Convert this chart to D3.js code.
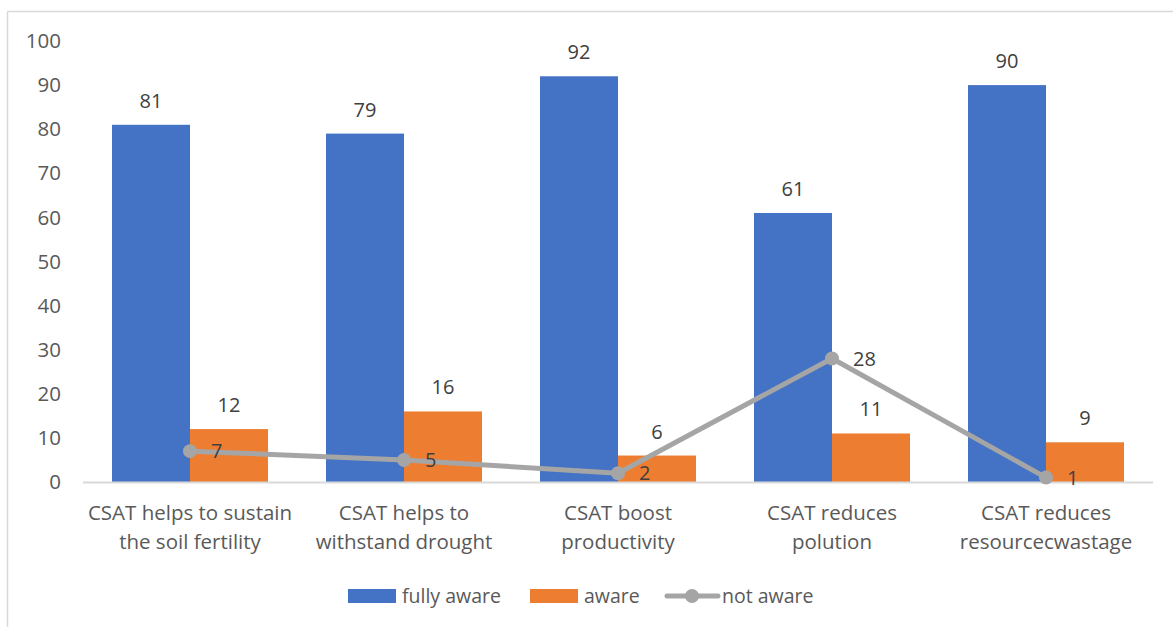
<html>
<head>
<script src="https://d3js.org/d3.v7.min.js"></script>
<style>
body { margin: 0; background: #fff; font-family: 'Open Sans', 'Noto Sans', sans-serif; }
svg { display: block; }
</style>
</head>
<body>
<svg width="1173" height="627"></svg>
<script>
var categories = [
  ["CSAT helps to sustain", "the soil fertility"],
  ["CSAT helps to", "withstand drought"],
  ["CSAT boost", "productivity"],
  ["CSAT reduces", "polution"],
  ["CSAT reduces", "resourcecwastage"]
];
var fullyAware = [81, 79, 92, 61, 90];
var aware = [12, 16, 6, 11, 9];
var notAware = [7, 5, 2, 28, 1];
var yTicks = [0, 10, 20, 30, 40, 50, 60, 70, 80, 90, 100];

var svg = d3.select("svg");
var blue = "#4472c4", orange = "#ed7d31", grey = "#a5a5a5";

// frame of the chart area (only top and left edges show)
svg.append("line").attr("x1", 7.5).attr("x2", 1173).attr("y1", 11.5).attr("y2", 11.5)
  .attr("stroke", "#d9d9d9").attr("stroke-width", 1.5);
svg.append("line").attr("x1", 7.5).attr("x2", 7.5).attr("y1", 11.5).attr("y2", 627)
  .attr("stroke", "#d9d9d9").attr("stroke-width", 1.5);

var x = d3.scaleBand().domain(d3.range(categories.length)).range([83, 1153]);
var y = d3.scaleLinear().domain([0, 100]).range([482, 41]);
var barW = 78;

// y tick labels
svg.selectAll("text.ytick").data(yTicks).enter().append("text")
  .attr("class", "ytick")
  .attr("x", 61).attr("y", function (d) { return y(d); })
  .attr("dy", "0.35em").attr("text-anchor", "end")
  .attr("font-size", 20.5).attr("fill", "#595959")
  .text(function (d) { return d; });

// bars
svg.selectAll("rect.full").data(fullyAware).enter().append("rect")
  .attr("class", "full")
  .attr("x", function (d, i) { return x(i) + x.bandwidth() / 2 - barW; })
  .attr("y", function (d) { return y(d); })
  .attr("width", barW).attr("height", function (d) { return y(0) - y(d); })
  .attr("fill", blue);
svg.selectAll("rect.aware").data(aware).enter().append("rect")
  .attr("class", "aware")
  .attr("x", function (d, i) { return x(i) + x.bandwidth() / 2; })
  .attr("y", function (d) { return y(d); })
  .attr("width", barW).attr("height", function (d) { return y(0) - y(d); })
  .attr("fill", orange);

// baseline
svg.append("line").attr("x1", x.range()[0]).attr("x2", x.range()[1])
  .attr("y1", y(0) + 0.5).attr("y2", y(0) + 0.5)
  .attr("stroke", "#d9d9d9").attr("stroke-width", 2);

// bar value labels
svg.selectAll("text.fl").data(fullyAware).enter().append("text")
  .attr("x", function (d, i) { return x(i) + x.bandwidth() / 2 - barW / 2; })
  .attr("y", function (d) { return y(d) - 17; })
  .attr("text-anchor", "middle").attr("font-size", 20).attr("fill", "#404040")
  .text(function (d) { return d; });
svg.selectAll("text.al").data(aware).enter().append("text")
  .attr("x", function (d, i) { return x(i) + x.bandwidth() / 2 + barW / 2; })
  .attr("y", function (d) { return y(d) - 17; })
  .attr("text-anchor", "middle").attr("font-size", 20).attr("fill", "#404040")
  .text(function (d) { return d; });

// not aware line
var line = d3.line()
  .x(function (d, i) { return x(i) + x.bandwidth() / 2; })
  .y(function (d) { return y(d); });
svg.append("path").datum(notAware).attr("d", line)
  .attr("fill", "none").attr("stroke", grey).attr("stroke-width", 5)
  .attr("stroke-linejoin", "round");
svg.selectAll("circle.na").data(notAware).enter().append("circle")
  .attr("cx", function (d, i) { return x(i) + x.bandwidth() / 2; })
  .attr("cy", function (d) { return y(d); })
  .attr("r", 7).attr("fill", grey);
svg.selectAll("text.nl").data(notAware).enter().append("text")
  .attr("x", function (d, i) { return x(i) + x.bandwidth() / 2 + 21; })
  .attr("y", function (d) { return y(d); })
  .attr("dy", "0.35em").attr("text-anchor", "start")
  .attr("font-size", 20).attr("fill", "#404040")
  .text(function (d) { return d; });

// category labels
var cat = svg.selectAll("text.cat").data(categories).enter().append("text")
  .attr("text-anchor", "middle").attr("font-size", 20.5).attr("fill", "#595959");
cat.each(function (lines, i) {
  d3.select(this).selectAll("tspan").data(lines).enter().append("tspan")
    .attr("x", x(i) + x.bandwidth() / 2)
    .attr("y", function (d, j) { return 520 + j * 29; })
    .text(function (d) { return d; });
});

// legend
var legend = svg.append("g").attr("font-size", 19.5).attr("fill", "#595959");
legend.append("rect").attr("x", 348).attr("y", 589).attr("width", 48).attr("height", 14).attr("fill", blue);
legend.append("text").attr("x", 402).attr("y", 596).attr("dy", "0.35em").text("fully aware");
legend.append("rect").attr("x", 530).attr("y", 589).attr("width", 48).attr("height", 14).attr("fill", orange);
legend.append("text").attr("x", 584).attr("y", 596).attr("dy", "0.35em").text("aware");
legend.append("line").attr("x1", 667).attr("x2", 718).attr("y1", 596).attr("y2", 596)
  .attr("stroke", grey).attr("stroke-width", 5).attr("stroke-linecap", "round");
legend.append("circle").attr("cx", 692).attr("cy", 596).attr("r", 7).attr("fill", grey);
legend.append("text").attr("x", 722).attr("y", 596).attr("dy", "0.35em").text("not aware");
</script>
</body>
</html>
